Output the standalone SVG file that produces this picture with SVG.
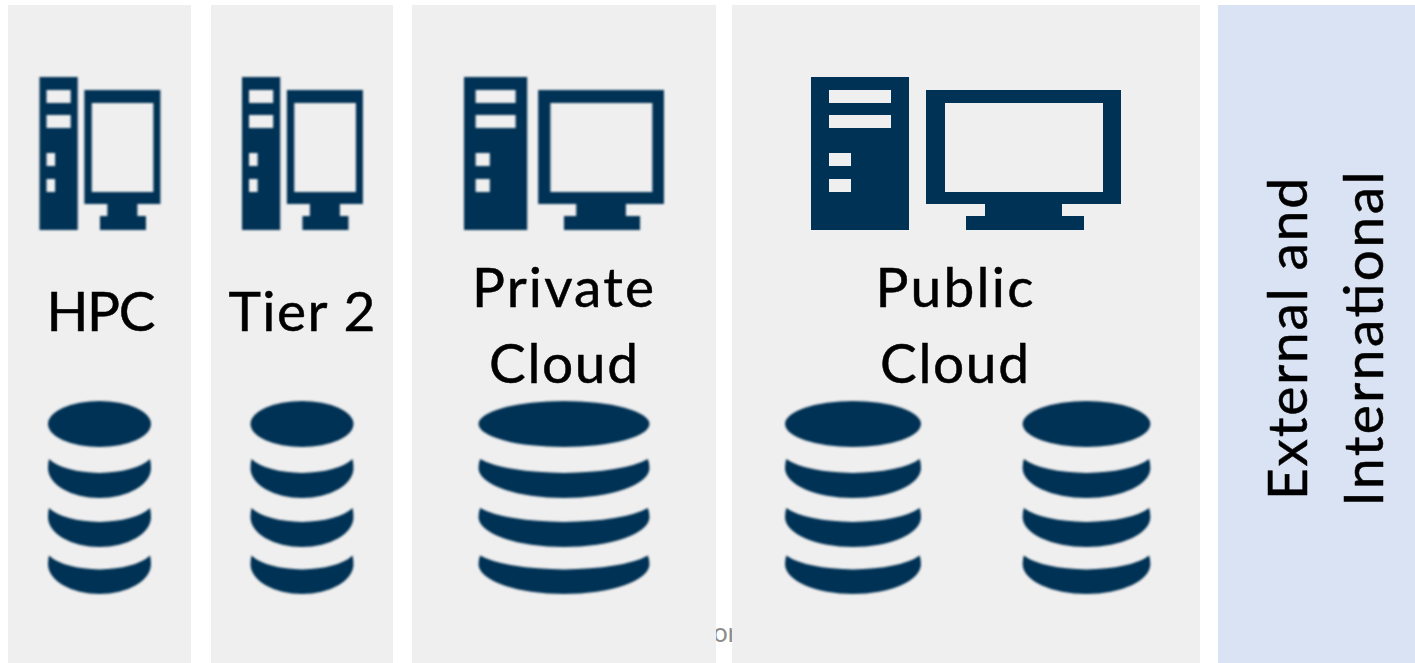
<svg xmlns="http://www.w3.org/2000/svg" width="1415" height="663" viewBox="0 0 1415 663">
<style>
.p{fill:#efefef}.e{fill:#dae3f3}
.t{font-family:Lato,"Open Sans",sans-serif;font-size:55px;fill:#000;stroke:#000;stroke-width:0.5px;text-anchor:middle}
.i{fill:#003355;fill-rule:evenodd}
.soft{filter:url(#b)}
.fine{filter:url(#c)}
</style>
<defs>
<filter id="b" x="-5%" y="-5%" width="110%" height="110%"><feGaussianBlur stdDeviation="0.8"/></filter>
<filter id="c" x="-5%" y="-5%" width="110%" height="110%"><feGaussianBlur stdDeviation="0.35"/></filter>
<path id="pc" class="i" d="M0 77H98V230H0ZM18 90V103H80V90ZM18 115V128H80V115ZM18 153V166H40V153ZM18 179V192H40V179ZM115 90H310V204H251V216H273V230H155V216H174V204H115ZM134 103V192H292V103Z"/>
<path id="db" class="i" d="M-51.500 424A51.500 23 0 1 1 51.500 424A51.500 23 0 1 1 -51.500 424ZM-50.500 459A55 23 0 0 0 50.500 459Q51.500 463 51.500 468A51.500 30 0 0 1 -51.500 468Q-51.500 463 -50.500 459ZM-50.500 508A55 23 0 0 0 50.500 508Q51.500 512 51.500 517A51.500 30 0 0 1 -51.500 517Q-51.500 512 -50.500 508ZM-50.500 555.500A55 23 0 0 0 50.500 555.500Q51.500 559 51.500 564A51.500 30 0 0 1 -51.500 564Q-51.500 559 -50.500 555.500Z"/>
</defs>
<rect width="1415" height="663" fill="#fff"/>
<text x="725" y="642" font-family="Lato,sans-serif" font-size="26" fill="#8c8c8c" text-anchor="middle">or</text>
<g id="hpc">
<rect class="p" x="8" y="5" width="183" height="658"/>
<g class="soft"><use href="#pc" transform="translate(39.500 0) scale(0.39 1)"/></g>
<text class="t" x="101" y="331" textLength="109">HPC</text>
<g class="soft"><use href="#db" transform="translate(99.500 0)"/></g>
</g>
<g id="tier2">
<rect class="p" x="211" y="5" width="182" height="658"/>
<g class="soft"><use href="#pc" transform="translate(242 0) scale(0.39 1)"/></g>
<text class="t" x="302" y="331" textLength="147">Tier 2</text>
<g class="soft"><use href="#db" transform="translate(302 0)"/></g>
</g>
<g id="private-cloud">
<rect class="p" x="412" y="5" width="304" height="658"/>
<g class="soft"><use href="#pc" transform="translate(464 0) scale(0.645 1)"/></g>
<text class="t" x="563" y="307" textLength="182">Private</text>
<text class="t" x="563.500" y="383" textLength="149">Cloud</text>
<g class="soft"><use href="#db" transform="translate(564 0) scale(1.66 1)"/></g>
</g>
<g id="public-cloud">
<rect class="p" x="732" y="5" width="468" height="658"/>
<g class="fine"><use href="#pc" transform="translate(811 0)"/></g>
<text class="t" x="954.500" y="307" textLength="158">Public</text>
<text class="t" x="954.500" y="383" textLength="149">Cloud</text>
<g class="soft"><use href="#db" transform="translate(853 0) scale(1.32 1)"/></g>
<g class="soft"><use href="#db" transform="translate(1086.500 0) scale(1.24 1)"/></g>
</g>
<g id="external">
<rect class="e" x="1218" y="5" width="197" height="658"/>
<text class="t" transform="translate(1307 339) rotate(-90)" textLength="322">External and</text>
<text class="t" transform="translate(1383 339) rotate(-90)" textLength="335">International</text>
</g>
<g id="connectors"/>
</svg>
